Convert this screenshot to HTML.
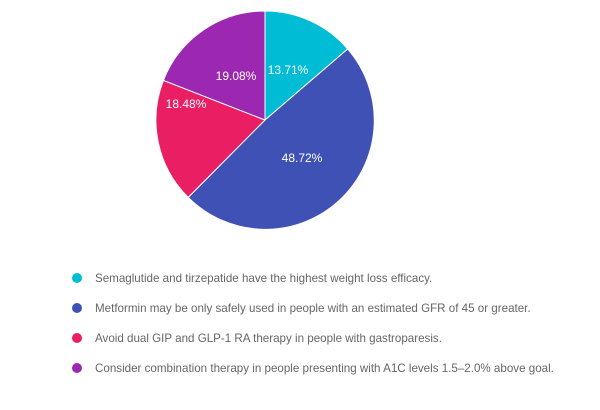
<!DOCTYPE html>
<html><head><style>
body{margin:0;background:#fff;width:600px;height:405px;overflow:hidden;font-family:"Liberation Sans",Arial,sans-serif}
</style></head><body>
<svg width="600" height="405" xmlns="http://www.w3.org/2000/svg" font-family="Liberation Sans, Arial, sans-serif">
<g stroke="#fff" stroke-width="1">
<path d="M265,120 L265,11 A109,109 0 0 1 347.7,49.0 Z" fill="#00BCD4"/>
<path d="M265,120 L347.7,49.0 A109,109 0 0 1 188.2,197.4 Z" fill="#3F51B5"/>
<path d="M265,120 L188.2,197.4 A109,109 0 0 1 163.4,80.4 Z" fill="#E91E63"/>
<path d="M265,120 L163.4,80.4 A109,109 0 0 1 265,11 Z" fill="#9C27B0"/>
</g>
<g fill="#fff" font-size="12" text-anchor="middle">
<text x="288" y="74">13.71%</text>
<text x="302" y="162">48.72%</text>
<text x="186" y="108">18.48%</text>
<text x="236" y="80">19.08%</text>
</g>
<g font-size="11.6" fill="#666">
<circle cx="77" cy="278" r="5" fill="#00BCD4"/>
<text x="95" y="282">Semaglutide and tirzepatide have the highest weight loss efficacy.</text>
<circle cx="77" cy="308" r="5" fill="#3F51B5"/>
<text x="95" y="312">Metformin may be only safely used in people with an estimated GFR of 45 or greater.</text>
<circle cx="77" cy="338" r="5" fill="#E91E63"/>
<text x="95" y="342">Avoid dual GIP and GLP-1 RA therapy in people with gastroparesis.</text>
<circle cx="77" cy="368" r="5" fill="#9C27B0"/>
<text x="95" y="372">Consider combination therapy in people presenting with A1C levels 1.5–2.0% above goal.</text>
</g>
</svg>
</body></html>
